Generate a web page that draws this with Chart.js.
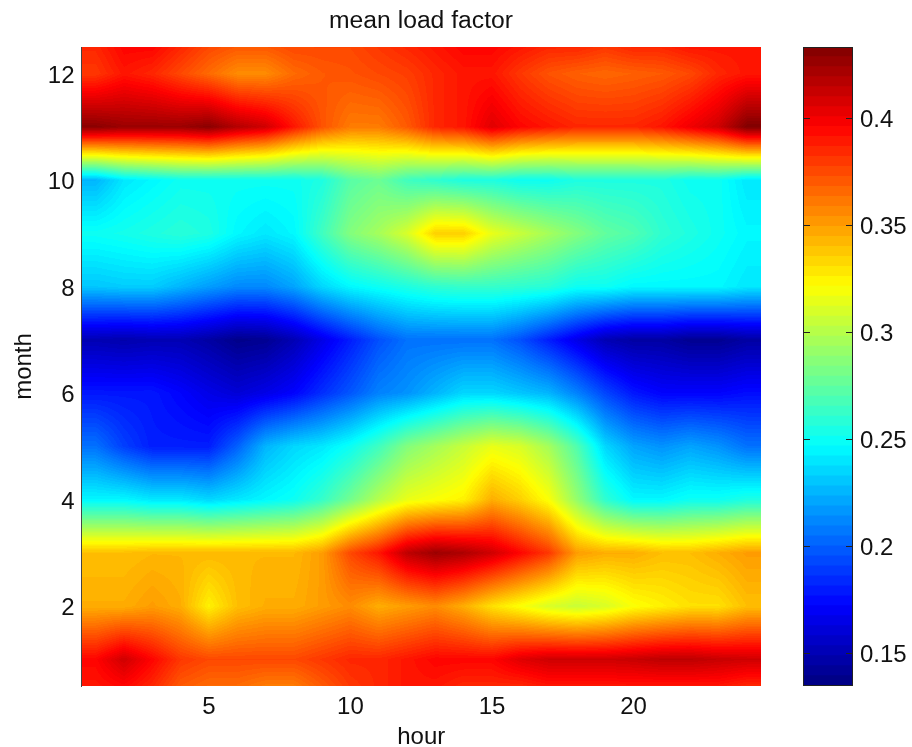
<!DOCTYPE html>
<html><head><meta charset="utf-8">
<script src="https://cdn.jsdelivr.net/npm/chart.js@4"></script>
<style>html,body{margin:0;padding:0;background:#fff;overflow:hidden}canvas{position:absolute;top:0}</style>
</head><body>
<canvas id="main" width="842" height="747" style="left:0"></canvas>
<canvas id="bar" width="132" height="747" style="left:780px"></canvas>
<script>
const hours=[1,2,3,4,5,6,7,8,9,10,11,12,13,14,15,16,17,18,19,20,21,22,23,24];
const months=[0.5,1,2,3,4,5,6,7,8,9,10,11,12,12.5];
const edgeBottom=[.39,.395,.385,.37,.365,.365,.36,.36,.37,.38,.385,.39,.39,.385,.385,.385,.39,.39,.39,.39,.39,.39,.39,.385];
const month1=[.395,.41,.395,.38,.375,.375,.375,.375,.38,.385,.385,.39,.395,.395,.395,.405,.41,.41,.41,.412,.415,.415,.412,.41];
const month2=[.345,.345,.35,.345,.325,.34,.345,.345,.35,.355,.345,.35,.355,.345,.33,.32,.31,.305,.31,.32,.325,.33,.33,.34];
const month3=[.34,.34,.342,.342,.342,.342,.342,.342,.35,.375,.39,.415,.425,.42,.41,.395,.38,.35,.345,.345,.34,.34,.345,.35];
const month4=[.245,.245,.24,.24,.235,.24,.245,.25,.262,.28,.30,.315,.32,.325,.345,.335,.32,.29,.26,.245,.245,.25,.25,.255];
const month5=[.205,.19,.18,.18,.18,.20,.225,.235,.24,.25,.265,.285,.295,.305,.315,.31,.295,.27,.235,.22,.215,.22,.215,.205];
const month6=[.178,.178,.178,.172,.165,.16,.165,.172,.185,.197,.21,.215,.225,.235,.235,.23,.225,.21,.192,.178,.172,.172,.172,.175];
const month7=[.15,.148,.15,.15,.145,.138,.14,.15,.165,.18,.195,.205,.205,.205,.205,.195,.18,.165,.15,.145,.145,.14,.14,.145];
const month8=[.23,.232,.232,.225,.218,.212,.212,.22,.235,.245,.25,.255,.26,.262,.262,.26,.258,.25,.25,.245,.245,.245,.245,.24];
const month9=[.25,.252,.255,.258,.255,.245,.24,.245,.265,.285,.295,.31,.335,.335,.315,.305,.295,.285,.275,.27,.26,.255,.25,.245];
const month10=[.225,.24,.245,.25,.25,.25,.25,.25,.255,.272,.278,.265,.26,.255,.255,.25,.25,.255,.255,.255,.255,.25,.25,.24];
const month11=[.43,.425,.425,.425,.43,.418,.41,.39,.372,.36,.36,.37,.385,.39,.405,.395,.39,.385,.385,.385,.39,.40,.41,.433];
const month12=[.38,.39,.385,.375,.365,.355,.355,.365,.37,.372,.375,.378,.385,.39,.39,.38,.372,.368,.366,.368,.37,.375,.385,.39];
const edgeTop=[.385,.395,.395,.385,.375,.37,.37,.375,.375,.375,.38,.385,.39,.395,.395,.39,.385,.385,.38,.385,.385,.39,.39,.39];
const rows=[edgeBottom,month1,month2,month3,month4,month5,month6,month7,month8,month9,month10,month11,month12,edgeTop];
const hourTicks=[5,10,15,20];
const monthTicks=[2,4,6,8,10,12];
const colorTicks=[.15,.2,.25,.3,.35,.4];
const colorMin=.1346, colorMax=.4332, levelCount=64, fieldLevels=128;

const FONT='"Liberation Sans", Arial, sans-serif';
const clamp=v=>Math.max(0,Math.min(1,v));
function jet(t){return [clamp(Math.min(4*t-1.5,-4*t+4.5)),clamp(Math.min(4*t-.5,-4*t+3.5)),clamp(Math.min(4*t+.5,-4*t+2.5))].map(c=>Math.round(c*255));}
function levelColor(v){
  const i=Math.max(0,Math.min(fieldLevels-1,Math.floor((v-colorMin)/(colorMax-colorMin)*fieldLevels)));
  return jet((i+.5)/fieldLevels);
}
function fieldAt(h,m){
  const hc=Math.max(1,Math.min(24,h)), mc=Math.max(months[0],Math.min(months[months.length-1],m));
  const i=Math.min(22,Math.floor(hc-1));
  let j=0; while(j<months.length-2&&mc>months[j+1]) j++;
  const a=hc-1-i, b=(mc-months[j])/(months[j+1]-months[j]);
  return (rows[j][i]*(1-a)+rows[j][i+1]*a)*(1-b)+(rows[j+1][i]*(1-a)+rows[j+1][i+1]*a)*b;
}
const heatPlugin={id:'heat',beforeDatasetsDraw(chart){
  const {ctx,chartArea:ca,scales:{x,y}}=chart;
  const L=Math.round(ca.left),T=Math.round(ca.top),W=Math.round(ca.right)-L,H=Math.round(ca.bottom)-T;
  const off=document.createElement('canvas');off.width=W;off.height=H;
  const c=off.getContext('2d'),img=c.createImageData(W,H);
  for(let py=0;py<H;py++){
    const m=y.getValueForPixel(T+py+.5);
    for(let px=0;px<W;px++){
      const col=levelColor(fieldAt(x.getValueForPixel(L+px+.5),m));
      const k=(py*W+px)*4;
      img.data[k]=col[0];img.data[k+1]=col[1];img.data[k+2]=col[2];img.data[k+3]=255;
    }
  }
  c.putImageData(img,0,0);
  ctx.drawImage(off,L,T);
}};
const points=[];
months.forEach((m,j)=>hours.forEach((h,i)=>points.push({x:h,y:m,v:rows[j][i]})));

new Chart(document.getElementById('main'),{
  type:'scatter',
  data:{datasets:[{label:'mean load factor',data:points,pointRadius:0,showLine:false}]},
  options:{responsive:false,animation:false,
    plugins:{legend:{display:false},tooltip:{enabled:false},
      title:{display:true,text:'mean load factor',color:'#111',font:{family:FONT,size:24.7,weight:'normal',lineHeight:'29px'},padding:{top:7,bottom:11}}},
    scales:{
      x:{type:'linear',min:.5,max:24.5,
        afterBuildTicks:s=>{s.ticks=hourTicks.map(v=>({value:v}));},
        afterFit:s=>{s.height=61;},
        grid:{display:false,drawTicks:false},border:{display:false},
        ticks:{color:'#111',autoSkip:false,maxRotation:0,padding:7,font:{family:FONT,size:24}},
        title:{display:true,text:'hour',color:'#111',font:{family:FONT,size:24,lineHeight:.8},padding:{top:0,bottom:0}}},
      y:{type:'linear',min:.5,max:12.5,
        afterBuildTicks:s=>{s.ticks=monthTicks.map(v=>({value:v}));},
        afterFit:s=>{s.width=81.5;},
        grid:{display:false,drawTicks:false},border:{display:true,color:'#444',width:1},
        ticks:{color:'#111',autoSkip:false,padding:7,font:{family:FONT,size:24,lineHeight:'5px'},callback:v=>['',String(v)]},
        title:{display:true,text:'month',color:'#111',font:{family:FONT,size:24,lineHeight:1.2},padding:{top:10,bottom:0}}},
      spacer:{type:'linear',position:'right',display:true,min:0,max:1,
        afterFit:s=>{s.width=81;},
        grid:{display:false,drawTicks:false},border:{display:false},ticks:{display:false}}
    }},
  plugins:[heatPlugin]
});

const levelDatasets=[];
for(let i=0;i<levelCount;i++){
  const lo=colorMin+(colorMax-colorMin)*i/levelCount, hi=colorMin+(colorMax-colorMin)*(i+1)/levelCount+.0002;
  const c=jet((i+.5)/levelCount);
  levelDatasets.push({data:[[lo,Math.min(hi,colorMax)]],backgroundColor:`rgb(${c[0]},${c[1]},${c[2]})`,borderWidth:0,grouped:false,barPercentage:1,categoryPercentage:1,yAxisID:'c'});
}
const framePlugin={id:'frame',afterDatasetsDraw(chart){
  const {ctx,chartArea:ca,scales:{c}}=chart;
  ctx.save();ctx.strokeStyle='#222';ctx.lineWidth=1;
  ctx.strokeRect(ca.left+.5,ca.top+.5,ca.right-ca.left-1,ca.bottom-ca.top-1);
  ctx.beginPath();
  colorTicks.forEach(v=>{const p=Math.round(c.getPixelForValue(v))+.5;
    ctx.moveTo(ca.left,p);ctx.lineTo(ca.left+7,p);ctx.moveTo(ca.right-7,p);ctx.lineTo(ca.right,p);});
  ctx.stroke();ctx.restore();
}};
new Chart(document.getElementById('bar'),{
  type:'bar',
  data:{labels:['level'],datasets:levelDatasets},
  options:{responsive:false,animation:false,
    layout:{padding:{left:23,top:47,bottom:61}},
    plugins:{legend:{display:false},tooltip:{enabled:false}},
    scales:{
      x:{display:false},
      c:{type:'linear',position:'right',min:colorMin,max:colorMax,
        afterBuildTicks:s=>{s.ticks=colorTicks.map(v=>({value:v}));},
        afterFit:s=>{s.width=59;},
        grid:{display:false,drawTicks:false},border:{display:false},
        ticks:{color:'#111',autoSkip:false,padding:7,font:{family:FONT,size:24,lineHeight:'5px'},callback:v=>['',String(+v.toFixed(2))]}}
    }},
  plugins:[framePlugin]
});
</script>
</body></html>
